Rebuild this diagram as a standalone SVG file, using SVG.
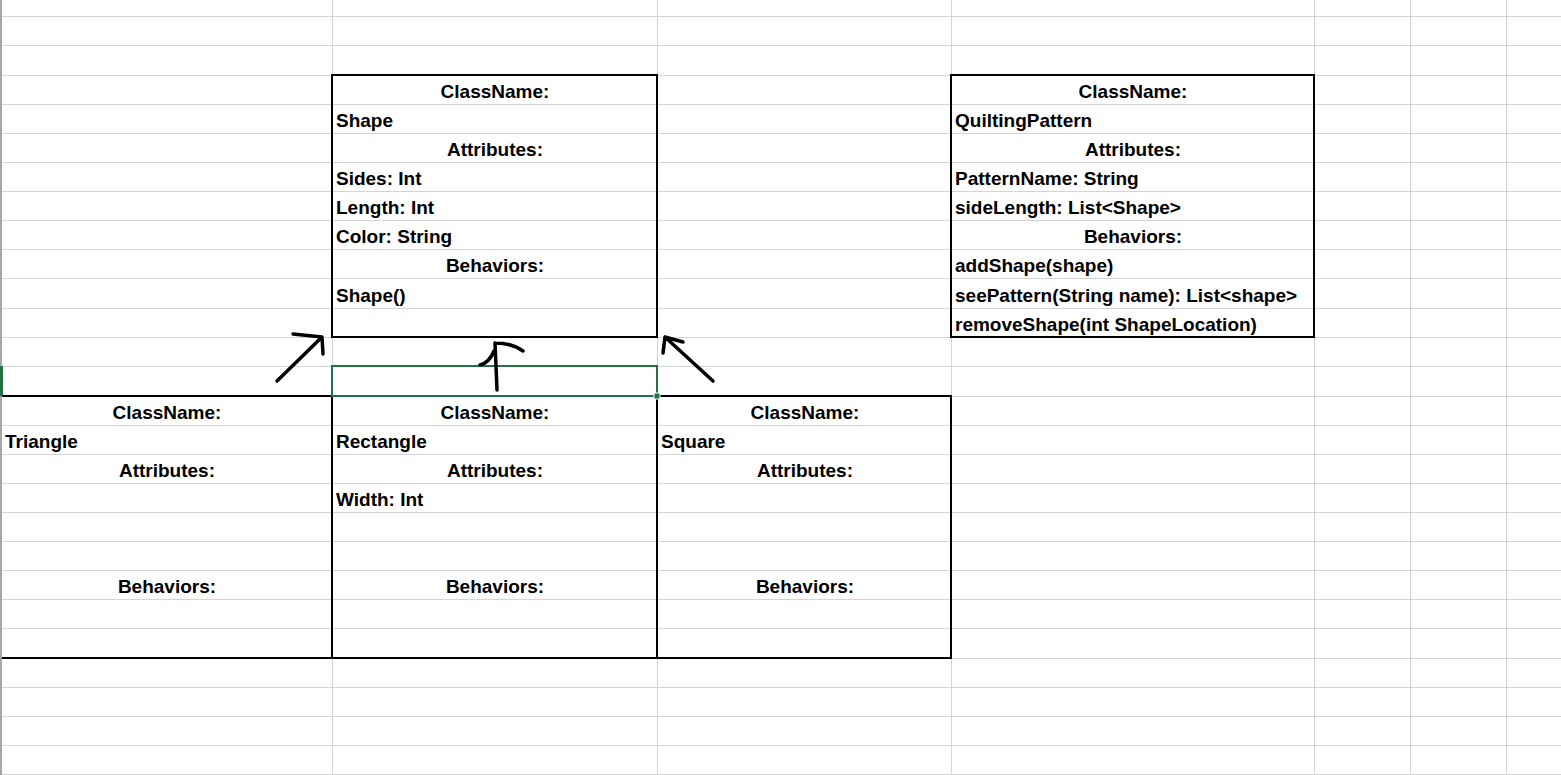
<svg xmlns="http://www.w3.org/2000/svg" width="1561" height="775" viewBox="0 0 1561 775">
<style>
.grid line{stroke:#d4d4d4;stroke-width:1}
.box{fill:none;stroke:#000;stroke-width:2}
text{font-family:"Liberation Sans",Arial,sans-serif;font-weight:bold;font-size:19px;fill:#000}
.c{text-anchor:middle}
.arrow{fill:none;stroke:#000;stroke-width:3.5;stroke-linecap:round;stroke-linejoin:round}
</style>
<rect x="0" y="0" width="1561" height="775" fill="#fff"/>
<g class="grid">
<line x1="2" y1="16.5" x2="1561" y2="16.5"/>
<line x1="2" y1="45.5" x2="1561" y2="45.5"/>
<line x1="2" y1="75.5" x2="1561" y2="75.5"/>
<line x1="2" y1="104.5" x2="1561" y2="104.5"/>
<line x1="2" y1="133.5" x2="1561" y2="133.5"/>
<line x1="2" y1="162.5" x2="1561" y2="162.5"/>
<line x1="2" y1="191.5" x2="1561" y2="191.5"/>
<line x1="2" y1="220.5" x2="1561" y2="220.5"/>
<line x1="2" y1="249.5" x2="1561" y2="249.5"/>
<line x1="2" y1="278.5" x2="1561" y2="278.5"/>
<line x1="2" y1="308.5" x2="1561" y2="308.5"/>
<line x1="2" y1="337.5" x2="1561" y2="337.5"/>
<line x1="2" y1="366.5" x2="1561" y2="366.5"/>
<line x1="2" y1="396.5" x2="1561" y2="396.5"/>
<line x1="2" y1="425.5" x2="1561" y2="425.5"/>
<line x1="2" y1="454.5" x2="1561" y2="454.5"/>
<line x1="2" y1="483.5" x2="1561" y2="483.5"/>
<line x1="2" y1="512.5" x2="1561" y2="512.5"/>
<line x1="2" y1="541.5" x2="1561" y2="541.5"/>
<line x1="2" y1="570.5" x2="1561" y2="570.5"/>
<line x1="2" y1="599.5" x2="1561" y2="599.5"/>
<line x1="2" y1="628.5" x2="1561" y2="628.5"/>
<line x1="2" y1="658.5" x2="1561" y2="658.5"/>
<line x1="2" y1="687.5" x2="1561" y2="687.5"/>
<line x1="2" y1="716.5" x2="1561" y2="716.5"/>
<line x1="2" y1="745.5" x2="1561" y2="745.5"/>
<line x1="2" y1="774.5" x2="1561" y2="774.5"/>
<line x1="332.5" y1="0" x2="332.5" y2="775"/>
<line x1="657.5" y1="0" x2="657.5" y2="775"/>
<line x1="951.5" y1="0" x2="951.5" y2="775"/>
<line x1="1314.5" y1="0" x2="1314.5" y2="775"/>
<line x1="1410.5" y1="0" x2="1410.5" y2="775"/>
<line x1="1506.5" y1="0" x2="1506.5" y2="775"/>
</g>
<line x1="1" y1="0" x2="1" y2="775" stroke="#a6a6a6" stroke-width="2"/>
<rect x="0" y="366" width="3" height="30" fill="#217346"/>

<g id="shape">
<rect class="box" x="332" y="75" width="325" height="262"/>
<text class="c" x="495" y="98">ClassName:</text>
<text x="336" y="127">Shape</text>
<text class="c" x="495" y="156">Attributes:</text>
<text x="336" y="185">Sides: Int</text>
<text x="336" y="214">Length: Int</text>
<text x="336" y="243">Color: String</text>
<text class="c" x="495" y="272">Behaviors:</text>
<text x="336" y="302">Shape()</text>
</g>

<g id="quiltingpattern">
<rect class="box" x="951" y="75" width="363" height="262"/>
<text class="c" x="1133" y="98">ClassName:</text>
<text x="955" y="127">QuiltingPattern</text>
<text class="c" x="1133" y="156">Attributes:</text>
<text x="955" y="185">PatternName: String</text>
<text x="955" y="214">sideLength: List&lt;Shape&gt;</text>
<text class="c" x="1133" y="243">Behaviors:</text>
<text x="955" y="272">addShape(shape)</text>
<text x="955" y="302">seePattern(String name): List&lt;shape&gt;</text>
<text x="955" y="331">removeShape(int ShapeLocation)</text>
</g>

<g id="triangle">
<path class="box" d="M2,396 H332 V658 H2"/>
<text class="c" x="167" y="419">ClassName:</text>
<text x="5" y="448">Triangle</text>
<text class="c" x="167" y="477">Attributes:</text>
<text class="c" x="167" y="593">Behaviors:</text>
</g>

<g id="rectangle">
<rect class="box" x="332" y="396" width="325" height="262"/>
<text class="c" x="495" y="419">ClassName:</text>
<text x="336" y="448">Rectangle</text>
<text class="c" x="495" y="477">Attributes:</text>
<text x="336" y="506">Width: Int</text>
<text class="c" x="495" y="593">Behaviors:</text>
</g>

<g id="square">
<rect class="box" x="657" y="396" width="294" height="262"/>
<text class="c" x="805" y="419">ClassName:</text>
<text x="661" y="448">Square</text>
<text class="c" x="805" y="477">Attributes:</text>
<text class="c" x="805" y="593">Behaviors:</text>
</g>

<g id="selection">
<rect x="332" y="366" width="325" height="30" fill="none" stroke="#217346" stroke-width="2"/>
<rect x="654" y="393" width="6" height="6" fill="#217346" stroke="#fff" stroke-width="1"/>
</g>

<g id="connectors">
<path class="arrow" d="M277,381 L322,337 M293,334 L322,337 L323,354"/>
<path class="arrow" d="M497,390 L495,343 M495,343 Q512,343 523,351 M480,365 Q489,363 494,351"/>
<path class="arrow" d="M713,381 L665,337 M683,342 L665,337 L663,353"/>
</g>
</svg>
